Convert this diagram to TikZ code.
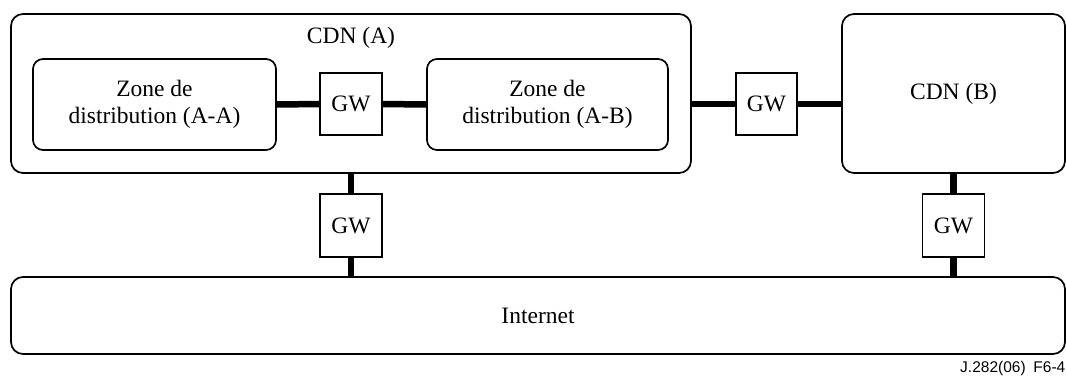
\documentclass[tikz,border=0pt]{standalone}
\usepackage{fontspec}
\setmainfont{Liberation Serif}
\newfontfamily\footfont{Liberation Sans}
\usetikzlibrary{calc}

\begin{document}
\begin{tikzpicture}[x=1pt,y=-1pt,
  txt/.style={font=\fontsize{23.5}{26.5}\selectfont},
  cdnbox/.style={draw,line width=1.7pt,rounded corners=12pt,inner sep=0pt},
  zonebox/.style={cdnbox,rounded corners=10pt,txt,align=center},
  gwbox/.style={draw,line width=1.7pt,minimum width=62pt,minimum height=62pt,inner sep=0pt,txt},
  link/.style={line width=6.5pt}]
  \useasboundingbox (0,0) rectangle (1066,378);
  % outer domains
  \node[cdnbox,minimum width=680pt,minimum height=159pt] (cdnA) at (351,93.5) {};
  \node[txt] (cdnAtitle) at (351,38) {CDN (A)};
  \node[cdnbox,txt,minimum width=223pt,minimum height=159pt] (cdnB) at (953.5,93.5) {CDN (B)};
  \node[cdnbox,txt,minimum width=1054pt,minimum height=77pt] (inet) at (538,315.5) {Internet};
  % zones inside CDN (A)
  \node[zonebox,minimum width=243pt,minimum height=91pt] (zoneAA) at (154.5,104.5) {Zone de\\distribution (A-A)};
  \node[zonebox,minimum width=241pt,minimum height=91pt] (zoneAB) at (547.5,104.5) {Zone de\\distribution (A-B)};
  % gateways
  \node[gwbox] (gwZ) at (351,104) {GW};
  \node[gwbox,minimum width=61pt] (gwAB) at (766.5,104) {GW};
  \node[gwbox,minimum height=63pt] (gwA) at (351,225.5) {GW};
  \node[gwbox,minimum height=63pt] (gwB) at (953.5,225.5) {GW};
  % links
  \draw[link] (zoneAA.east) -- (gwZ.west);
  \draw[link] (gwZ.east) -- (zoneAB.west);
  \draw[link] (gwAB.west) -- (gwAB.west -| cdnA.east);
  \draw[link] (gwAB.east) -- (gwAB.east -| cdnB.west);
  \draw[link] (cdnA.south) -- (gwA.north);
  \draw[link] (gwA.south) -- (gwA.south |- inet.north);
  \draw[link] (cdnB.south) -- (gwB.north);
  \draw[link] (gwB.south) -- (gwB.south |- inet.north);
  \node[font=\footfont\fontsize{15.5}{17}\selectfont,anchor=west,inner sep=0pt] (figref) at (960,368) {J.282(06)\enspace F6-4};
\end{tikzpicture}
\end{document}
